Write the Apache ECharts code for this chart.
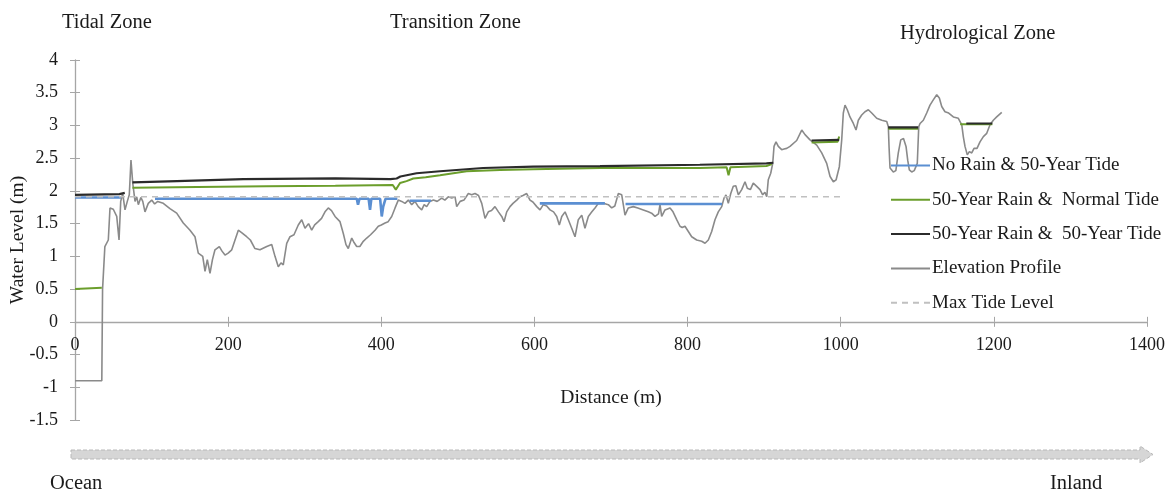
<!DOCTYPE html>
<html>
<head>
<meta charset="utf-8">
<script src="https://cdn.jsdelivr.net/npm/echarts@6/dist/echarts.min.js"></script>
<style>
html,body{margin:0;padding:0;background:#fff;}
#chart{width:1166px;height:491px;}
</style>
</head>
<body>
<div id="chart"></div>
<script>
// ---------- DATA ----------
const xTicks = { min: 0, max: 1400, interval: 200 };
const yTicks = { min: -1.5, max: 4, interval: 0.5 };

const seriesNames = [
  'No Rain & 50-Year Tide',
  '50-Year Rain &  Normal Tide',
  '50-Year Rain &  50-Year Tide',
  'Elevation Profile',
  'Max Tide Level'
];

const zoneNames = ['Tidal Zone', 'Transition Zone', 'Hydrological Zone'];
const zoneBoundaries = [73, 1039];
const maxTideLevel = 1.91;
const maxTideExtent = [0, 1000];

// elevation profile [distance m, elevation m]
const elevationProfile = [
  [0,-0.9],[35,-0.9],[36,0.5],[39,1.15],[43.5,1.25],[45.7,1.74],[50,1.72],[54.5,1.61],[57.5,1.25],
  [59.7,1.84],[62.3,1.96],[65.3,1.71],[68.3,1.84],[70.9,1.94],[73.1,2.47],[75.4,2.12],[78.4,1.84],
  [80.6,1.91],[82.7,1.79],[86,1.9],[88.5,1.84],[91.4,1.68],[95.7,1.81],[100.2,1.86],[104,1.80],
  [108,1.84],[115.3,1.81],[124,1.73],[132.8,1.66],[141.4,1.51],[150.2,1.40],[156.7,1.30],[161,1.05],
  [166.8,1.00],[169.8,0.77],[172.8,0.95],[176.3,0.74],[179.5,0.95],[182.8,1.10],[188.5,1.15],
  [192,1.08],[195.9,1.02],[200,1.05],[204.7,1.10],[209,1.25],[213.3,1.40],[218,1.36],[224.2,1.30],
  [229,1.25],[235,1.12],[241.6,1.10],[250.4,1.15],[256.9,1.18],[261.2,1.00],[265.5,0.84],[269,0.90],
  [272,0.87],[276.5,1.20],[280.8,1.30],[286,1.33],[291.6,1.48],[296.1,1.56],[300.4,1.43],[305,1.50],
  [309.1,1.40],[313,1.48],[317.7,1.53],[322,1.58],[326.5,1.68],[330.8,1.74],[335,1.70],[339.6,1.61],
  [346.1,1.53],[350.4,1.35],[353.9,1.18],[356.9,1.12],[361.4,1.28],[364,1.22],[367.9,1.15],[372,1.15],
  [376.5,1.23],[381,1.28],[386,1.33],[391.8,1.40],[396.1,1.46],[400,1.48],[404.9,1.51],[409,1.53],
  [413.6,1.61],[418,1.74],[422.2,1.86],[426.7,1.84],[431,1.81],[435.3,1.86],[439.7,1.79],[444,1.84],
  [448.3,1.76],[452.8,1.71],[456,1.79],[459.3,1.76],[463.6,1.84],[468,1.86],[473,1.84],[478.9,1.89],
  [483,1.86],[487.5,1.91],[492,1.89],[496.3,1.91],[498.5,1.76],[503,1.84],[508,1.86],[513.7,1.96],
  [518,1.94],[522.4,1.96],[527,1.93],[531.2,1.81],[535.5,1.58],[539.8,1.68],[544,1.70],[548.5,1.76],
  [553,1.68],[557.3,1.61],[560.3,1.53],[563.8,1.68],[568.1,1.76],[572,1.81],[576.9,1.86],[581.2,1.91],
  [585,1.93],[589.9,1.96],[594.2,1.86],[598,1.83],[603,1.76],[607.3,1.71],[611.6,1.79],[616,1.77],
  [620.4,1.71],[625,1.68],[629.1,1.61],[632.5,1.48],[635.7,1.61],[640,1.68],[644.3,1.56],[648.7,1.43],
  [653,1.30],[657.3,1.56],[661.8,1.63],[666,1.43],[670.4,1.61],[675,1.68],[679.1,1.74],[683.4,1.81],
  [690,1.81],[696.5,1.79],[700.9,1.74],[705,1.77],[709.6,1.96],[714,1.94],[718.3,1.63],[722.6,1.74],
  [729.1,1.76],[735,1.74],[742.2,1.71],[748.7,1.68],[753,1.66],[757.5,1.61],[762,1.65],[764,1.79],
  [766.2,1.61],[770.5,1.71],[777.1,1.74],[781,1.68],[785.8,1.56],[790.1,1.46],[793,1.44],[796.6,1.46],
  [801,1.38],[805.4,1.30],[811.9,1.25],[818.5,1.23],[822.8,1.20],[827.1,1.25],[831.5,1.38],[835.8,1.56],
  [840.1,1.68],[844.6,1.76],[847.6,1.89],[850.2,1.94],[853.2,1.81],[856.4,1.96],[859.7,2.07],[863,2.08],
  [866.3,1.94],[870.7,2.02],[875,2.14],[878,2.04],[882,2.02],[885.8,2.12],[890.3,2.07],[894.6,2.02],
  [898.1,1.94],[901,1.98],[903.4,1.91],[905.4,2.17],[908.6,2.27],[911.2,2.42],[912.9,2.68],[915.5,2.75],
  [918.5,2.68],[922.9,2.63],[926,2.64],[929.5,2.65],[933.8,2.68],[936,2.70],[942.5,2.77],[949.1,2.93],
  [953.4,2.86],[959.9,2.78],[968.7,2.70],[975.2,2.58],[981.7,2.42],[986.1,2.22],[990.4,2.14],[994,2.17],
  [998.2,2.37],[1001.3,2.78],[1003.4,3.19],[1005.6,3.31],[1008.6,3.24],[1012.1,3.13],[1016.5,3.03],
  [1020,2.93],[1023,3.08],[1027.4,3.16],[1031.7,3.21],[1036.1,3.24],[1040.5,3.19],[1047,3.11],
  [1053.6,3.08],[1060.1,3.06],[1062.2,2.98],[1063.1,2.68],[1064.4,2.35],[1068.7,2.29],[1072,2.31],
  [1075.2,2.58],[1078.4,2.78],[1082,2.80],[1085.3,2.68],[1087.5,2.47],[1089.6,2.32],[1092.7,2.29],
  [1096,2.31],[1100,2.42],[1101.9,2.98],[1103.6,3.03],[1107.9,3.08],[1112.3,3.19],[1116.6,3.31],
  [1120.9,3.39],[1125.4,3.47],[1128.8,3.42],[1131.9,3.29],[1136.2,3.21],[1141,3.19],[1147.1,3.13],
  [1153.6,3.11],[1158.1,3.01],[1160.1,2.83],[1162.3,2.68],[1165.3,2.55],[1168,2.60],[1171.1,2.58],
  [1174.1,2.65],[1178,2.65],[1181.9,2.75],[1186.3,2.83],[1190.7,2.88],[1195,3.01],[1199.3,3.08],
  [1203.7,3.13],[1210.3,3.20]
];

// water level segments (each inner list is one continuous stretch)
const noRain50YearTide = [
  [[0,1.90],[60,1.90]],
  [[104.5,1.88],[368,1.88],[369.6,1.79],[371.5,1.88],[383.5,1.88],[385.3,1.71],[387,1.88],
   [398.5,1.88],[400.6,1.61],[402.5,1.76],[404,1.74],[405.5,1.88],[421,1.88]],
  [[437,1.85],[465,1.85]],
  [[607,1.81],[692,1.81]],
  [[719,1.80],[845,1.80]]
];

const rain50NormalTide = [
  [[0,0.5],[35,0.52]],
  [[75,2.05],[160,2.06],[250,2.07],[340,2.08],[415,2.09],[419,2.02],[424.5,2.12],[433,2.15],
   [441.8,2.19],[458,2.21],[476.7,2.24],[511.5,2.30],[555,2.32],[598.5,2.33],[685.6,2.35],
   [816,2.35],[851,2.36],[853.5,2.24],[856,2.36],[903,2.38],[910,2.41]],
  [[962,2.74],[996,2.75],[998,2.83]],
  [[1062,2.95],[1101,2.95]],
  [[1156,3.02],[1198,3.02]]
];

const rain50Tide50 = [
  [[0,1.94],[58,1.95],[60,1.97],[65,1.97]],
  [[75,2.13],[133,2.15],[220,2.18],[340,2.19],[412,2.18],[420,2.19],[425,2.22],[446,2.27],
   [476.7,2.30],[533,2.35],[598.5,2.37],[685.6,2.38],[816,2.40],[903,2.42],[912,2.43]],
  [[962,2.77],[998,2.78]],
  [[1062,2.97],[1101,2.97]],
  [[1164,3.03],[1198,3.03]]
];

// ---------- BUILD ----------
function joinSegments(segs) {
  const out = [];
  segs.forEach((s, i) => {
    if (i > 0) out.push([s[0][0], null]);
    s.forEach(p => out.push(p));
  });
  return out;
}

const SERIF = '"Liberation Serif", "Times New Roman", serif';
const TXT = '#1a1a1a';
const AX = '#a6a6a6';
const chart = echarts.init(document.getElementById('chart'), null, { renderer: 'canvas' });

const GRID = { left: 75, right: 19, top: 60, bottom: 71 };
const plotH = 491 - GRID.top - GRID.bottom;
// x axis sits on y = 0: shift it up from the grid bottom by the share of the range below zero
const zeroOffset = -plotH * (0 - yTicks.min) / (yTicks.max - yTicks.min);

const common = { type: 'line', symbol: 'none', showSymbol: false, animation: false, silent: true, clip: false, xAxisIndex: 0, yAxisIndex: 0 };
const gridBox = Object.assign({ containLabel: false, outerBoundsMode: 'none' }, GRID);
const plain = v => String(v);

const option = {
  animation: false,
  grid: [Object.assign({}, gridBox), Object.assign({}, gridBox)],
  xAxis: [{
    gridIndex: 0, type: 'value', min: xTicks.min, max: xTicks.max, interval: xTicks.interval,
    offset: zeroOffset,
    name: 'Distance (m)', nameLocation: 'middle', nameGap: 66,
    nameTextStyle: { fontFamily: SERIF, fontSize: 19.5, color: TXT },
    axisLine: { onZero: false, lineStyle: { color: AX, width: 1.3 } },
    axisTick: { show: true, inside: false, length: 5, lineStyle: { color: AX } },
    axisLabel: { fontFamily: SERIF, fontSize: 18, color: TXT, margin: 14, formatter: plain },
    splitLine: { show: false }
  }, {
    gridIndex: 1, type: 'value', min: xTicks.min, max: xTicks.max, interval: xTicks.interval,
    offset: zeroOffset,
    axisLine: { show: false, onZero: false },
    axisTick: { show: true, inside: true, length: 5, lineStyle: { color: AX } },
    axisLabel: { show: false }, splitLine: { show: false }
  }],
  yAxis: [{
    gridIndex: 0, type: 'value', min: yTicks.min, max: yTicks.max, interval: yTicks.interval,
    name: 'Water Level (m)', nameLocation: 'middle', nameGap: 47, nameRotate: 90,
    nameMoveOverlap: false,
    nameTextStyle: { fontFamily: SERIF, fontSize: 19.5, color: TXT },
    axisLine: { show: true, onZero: false, lineStyle: { color: AX, width: 1.3 } },
    axisTick: { show: true, inside: false, length: 5, lineStyle: { color: AX } },
    axisLabel: { fontFamily: SERIF, fontSize: 18, color: TXT, margin: 17, formatter: plain },
    splitLine: { show: false }
  }, {
    gridIndex: 1, type: 'value', min: yTicks.min, max: yTicks.max, interval: yTicks.interval,
    axisLine: { show: false, onZero: false },
    axisTick: { show: true, inside: true, length: 5, lineStyle: { color: AX } },
    axisLabel: { show: false }, splitLine: { show: false }
  }],
  legend: {
    orient: 'vertical', left: 885, top: 151,
    itemWidth: 39, itemHeight: 19, itemGap: 15.3,
    data: seriesNames,
    itemStyle: { opacity: 0 },
    textStyle: { fontFamily: SERIF, fontSize: 19, color: TXT, padding: [0, 0, 0, -3] },
    selectedMode: false
  },
  series: [
    Object.assign({}, common, {
      name: seriesNames[3], data: elevationProfile, z: 2,
      itemStyle: { color: '#8a8a8a' },
      lineStyle: { color: '#8a8a8a', width: 1.6 }
    }),
    Object.assign({}, common, {
      name: seriesNames[0], data: joinSegments(noRain50YearTide), z: 3,
      itemStyle: { color: '#5b8fd2' },
      lineStyle: { color: '#5b8fd2', width: 2.6 }
    }),
    Object.assign({}, common, {
      name: seriesNames[1], data: joinSegments(rain50NormalTide), z: 4,
      itemStyle: { color: '#6b9e2c' },
      lineStyle: { color: '#6b9e2c', width: 2 }
    }),
    Object.assign({}, common, {
      name: seriesNames[2], data: joinSegments(rain50Tide50), z: 5,
      itemStyle: { color: '#2b2b2b' },
      lineStyle: { color: '#2b2b2b', width: 2.2 }
    }),
    Object.assign({}, common, {
      name: seriesNames[4], z: 6,
      data: [[maxTideExtent[0], maxTideLevel], [maxTideExtent[1], maxTideLevel]],
      itemStyle: { color: '#c0c0c0' },
      lineStyle: { color: '#c0c0c0', width: 1.6, type: [6, 5] },
      markLine: {
        silent: true, symbol: 'none', animation: false,
        label: { show: false },
        lineStyle: { color: '#333333', width: 2, type: [9, 5] },
        data: [
          [{ coord: [zoneBoundaries[0], 4] }, { coord: [zoneBoundaries[0], -1.55] }],
          [{ coord: [zoneBoundaries[1], 3.76] }, { coord: [zoneBoundaries[1], -1.62] }]
        ]
      }
    })
  ],
  graphic: [
    { type: 'text', left: 62, top: 12, style: { text: zoneNames[0], font: '20.5px ' + SERIF, fill: TXT } },
    { type: 'text', left: 390, top: 12, style: { text: zoneNames[1], font: '20.5px ' + SERIF, fill: TXT } },
    { type: 'text', left: 900, top: 23, style: { text: zoneNames[2], font: '20.5px ' + SERIF, fill: TXT } },
    { type: 'polygon', z: 1,
      shape: { points: [[71,450],[1140,450],[1140,446],[1153,454.5],[1140,463],[1140,459],[71,459]] },
      style: { fill: '#d6d6d6', stroke: '#b8b8b8', lineWidth: 1, lineDash: [4, 2] } },
    { type: 'text', left: 50, top: 473, style: { text: 'Ocean', font: '20.5px ' + SERIF, fill: TXT } },
    { type: 'text', left: 1050, top: 473, style: { text: 'Inland', font: '20.5px ' + SERIF, fill: TXT } }
  ]
};
chart.setOption(option);
</script>
</body>
</html>
